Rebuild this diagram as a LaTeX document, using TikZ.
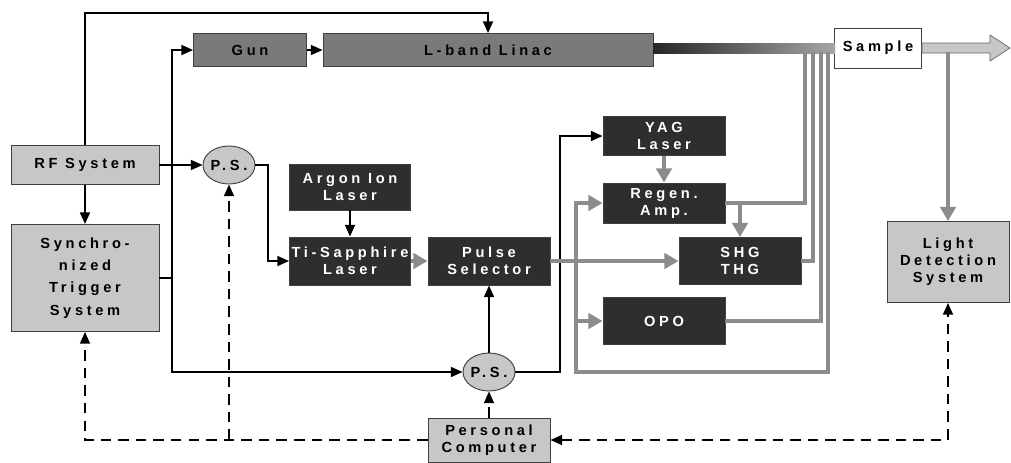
\documentclass[tikz,border=0pt]{standalone}
\usepackage{fontspec}
\setmainfont{Liberation Sans}
\newfontfamily\lblfont{Liberation Sans}[LetterSpace=25]
\usetikzlibrary{shapes.geometric,arrows.meta,calc}

\begin{document}
\begin{tikzpicture}[
  x=0.03cm, y=-0.03cm,
  font=\lblfont\bfseries\fontsize{12.5}{14.5}\selectfont,
  >={Triangle[length=10pt, width=8.5pt]},
  box/.style={rectangle, draw=black!75, line width=0.8pt, inner sep=0pt, align=center},
  light/.style={box, fill=black!22},
  mid/.style={box, fill=black!52},
  dark/.style={box, fill=black!82, text=white},
  ps/.style={ellipse, draw=black!75, line width=0.8pt, fill=black!22, inner sep=0pt,
             minimum width=1.56cm, minimum height=1.14cm},
  ctl/.style={->, line width=1.7pt},
  fib/.style={draw=black!45, line width=3pt},
  fibarr/.style={fib, -{Triangle[length=12pt, width=13pt, fill=black!45]}},
  pcl/.style={->, line width=1.4pt, dash pattern=on 9pt off 6pt},
]
\useasboundingbox (0,0) rectangle (1011,462);

% accelerator
\node[mid, minimum width=3.39cm, minimum height=0.99cm] (gun)   at (250,50) {Gun};
\node[mid, minimum width=9.9cm,  minimum height=0.99cm] (linac) at (488,50) {L-band Linac};
\node[box, fill=white, minimum width=2.61cm, minimum height=1.2cm] (sample) at (878,48) {Sample};
\node[inner sep=0pt, minimum width=5.46cm, minimum height=0.3cm,
      left color=black!85, right color=black!35] (beam) at (744,48) {};
\filldraw[draw=black!60, fill=black!22, line width=0.6pt]
  ($(sample.east)+(0,-5)$) -- ++(68,0) -- ++(0,-8) -- ++(20,13) -- ++(-20,13)
  -- ++(0,-8) -- ($(sample.east)+(0,5)$) -- cycle;

% timing
\node[light, minimum width=4.44cm, minimum height=1.17cm] (rf) at (85,165) {RF System};
\node[light, minimum width=4.44cm, minimum height=3.21cm,
      font=\lblfont\bfseries\fontsize{12.5}{19}\selectfont] (sync) at (85,278)
      {Synchro-\\nized\\Trigger\\System};
\node[ps] (ps1) at (229,165) {P.S.};
\node[ps] (ps2) at (489,372) {P.S.};
\node[light, minimum width=3.66cm, minimum height=1.32cm] (pc) at (489,440) {Personal\\Computer};

% lasers
\node[dark, minimum width=3.63cm, minimum height=1.38cm] (argon) at (350,187) {Argon Ion\\Laser};
\node[dark, minimum width=3.63cm, minimum height=1.44cm] (tisa)  at (350,261) {Ti-Sapphire\\Laser};
\node[dark, minimum width=3.66cm, minimum height=1.44cm] (pulse) at (489,261) {Pulse\\Selector};
\node[dark, minimum width=3.66cm, minimum height=1.17cm] (yag)   at (664,136) {YAG\\Laser};
\node[dark, minimum width=3.66cm, minimum height=1.2cm]  (regen) at (664,203) {Regen.\\Amp.};
\node[dark, minimum width=3.66cm, minimum height=1.41cm] (shg)   at (740,261) {SHG\\THG};
\node[dark, minimum width=3.66cm, minimum height=1.41cm] (opo)   at (664,321) {OPO};
\node[light, minimum width=3.66cm, minimum height=2.43cm] (lds) at (948,262) {Light\\Detection\\System};

\coordinate (top) at (0,13);
\coordinate (bus) at (172,0);
\coordinate (f1) at (805,52);
\coordinate (f2) at (813,52);
\coordinate (f3) at (821,52);
\coordinate (f4) at (828,52);
\coordinate (f5) at (948,52);
\coordinate (lp) at (576,372);

% rf and trigger lines
\draw[ctl] (rf.north) -- (rf.north |- top) -| (linac.north);
\draw[ctl] (gun.east) -- (linac.west);
\draw[ctl] (rf.south) -- (sync.north);
\draw[ctl] (rf.east) -- (ps1.west);
\draw[ctl] (sync.east) -- (sync.east -| bus) |- (gun.west);
\draw[ctl] (sync.east -| bus) |- (ps2.west);
\draw[ctl] (ps1.east) -- ++(13,0) |- (tisa.west);
\draw[ctl] (argon.south) -- (tisa.north);
\draw[ctl] (ps2.north) -- (pulse.south);
\draw[ctl] (ps2.east) -- ++(45,0) |- (yag.west);

% light paths
\draw[fibarr] (tisa.east) -- (pulse.west);
\draw[fibarr] (pulse.east) -- (shg.west);
\draw[fibarr] (yag.south) -- (regen.north);
\draw[fib] (f1) |- (regen.east);
\draw[fibarr] (regen.east -| shg.north) -- (shg.north);
\draw[fib] (f2) |- (shg.east);
\draw[fib] (f3) |- (opo.east);
\draw[fibarr] (f4) |- (lp) |- (regen.west);
\draw[fibarr] (lp |- opo) -- (opo.west);
\draw[fibarr] (f5) -- (lds.north);

% computer control
\draw[pcl] (pc.north) -- (ps2.south);
\draw[pcl] (pc.west) -| (sync.south);
\draw[pcl] (pc.west -| ps1) -- (ps1.south);
\draw[pcl, <->] (pc.east) -| (lds.south);

\end{tikzpicture}
\end{document}
